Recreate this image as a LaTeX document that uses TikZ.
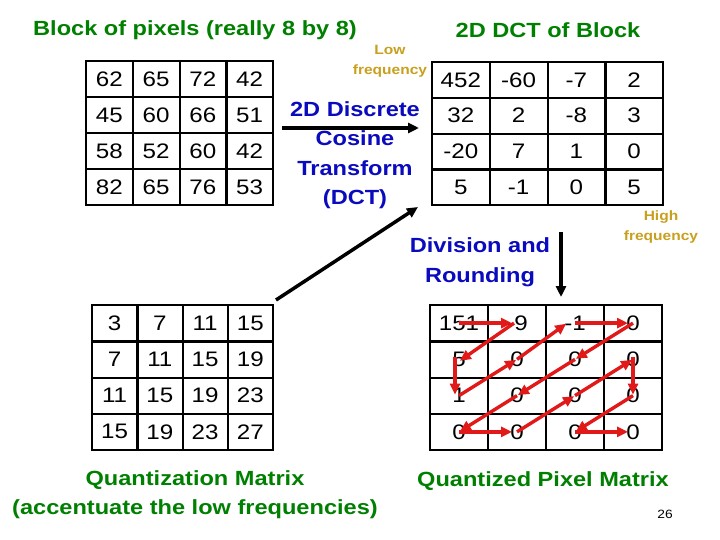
\documentclass[tikz,border=0pt]{standalone}
\usepackage{fontspec}
\setmainfont{Liberation Sans}[FakeStretch=1.15]
\usetikzlibrary{arrows.meta}
\definecolor{ttlgreen}{RGB}{0,128,0}
\definecolor{opblue}{RGB}{10,10,190}
\definecolor{freqgold}{RGB}{200,160,30}
\definecolor{zzred}{RGB}{225,25,25}
\tikzset{
  cell/.style={inner sep=0pt, font=\fontsize{21}{25}\selectfont},
  gridline/.style={draw=black, line width=2.3pt, line cap=rect},
  ttl/.style={text=ttlgreen, font=\bfseries\fontsize{20.5}{29}\selectfont, align=center},
  op/.style={text=opblue, font=\bfseries\fontsize{20.5}{29.5}\selectfont, align=center},
  freq/.style={text=freqgold, font=\bfseries\fontsize{13.5}{20}\selectfont, align=center},
  bigarrow/.style={line width=3.5pt, -{Triangle[length=11pt,width=10pt]}},
  zz/.style={draw=zzred, line width=3.4pt, -{Triangle[length=11pt,width=10pt]}, shorten >=1pt, shorten <=0pt}
}
\begin{document}
\begin{tikzpicture}[x=1pt,y=-1pt]
\useasboundingbox (0,0) rectangle (720,540);
\fill[white] (0,0) rectangle (720,540);

% titles
\node[ttl] (t1) at (195,30) {Block of pixels (really 8 by 8)};
\node[ttl] (t2) at (548,30) {2D DCT of Block};

% grid 1: pixels
\foreach \r/\vals in {1/{62,65,72,42},2/{45,60,66,51},3/{58,52,60,42},4/{82,65,76,53}}{
  \foreach \v [count=\c] in \vals {
    \node[cell, minimum width=46.75pt, minimum height=36pt] (g1-\r-\c) at ({86+(\c-0.5)*46.75},{61+(\r-0.5)*36}) {\v};
  }
}
% grid 2: DCT
\foreach \r/\vals in {1/{452,-60,-7,2},2/{32,2,-8,3},3/{-20,7,1,0},4/{5,-1,0,5}}{
  \foreach \v [count=\c] in \vals {
    \node[cell, minimum width=57.75pt, minimum height=35.75pt] (g2-\r-\c) at ({432+(\c-0.5)*57.75},{62+(\r-0.5)*35.75}) {\v};
  }
}
% grid 3: quantization
\foreach \r/\vals in {1/{3,7,11,15},2/{7,11,15,19},3/{11,15,19,23},4/{15,19,23,27}}{
  \foreach \v [count=\c] in \vals {
    \node[cell, minimum width=45.25pt, minimum height=36.25pt] (g3-\r-\c) at ({92+(\c-0.5)*45.25},{305+(\r-0.5)*36.25}) {\v};
  }
}
% grid 4: quantized
\foreach \r/\vals in {1/{151,-9,-1,0},2/{5,0,0,0},3/{1,0,0,0},4/{0,0,0,0}}{
  \foreach \v [count=\c] in \vals {
    \node[cell, minimum width=58pt, minimum height=36.25pt] (g4-\r-\c) at ({430+(\c-0.5)*58},{305+(\r-0.5)*36.25}) {\v};
  }
}
% grid lines
\foreach \g in {g1,g2,g3,g4}{
  \draw[gridline] (\g-1-1.north west) rectangle (\g-4-4.south east);
  \foreach \k in {1,2,3}{
    \draw[gridline] (\g-1-\k.north east) -- (\g-4-\k.south east);
    \draw[gridline] (\g-\k-1.south west) -- (\g-\k-4.south east);
  }
}

% labels
\node[op] (dct) at (355,155) {2D Discrete\\Cosine\\Transform\\(DCT)};
\node[op] (div) at (480,262) {Division and\\Rounding};
\node[freq] (low) at (390,61) {Low\\frequency};
\node[freq] (high) at (661,227) {High\\frequency};
\node[ttl] (qm) at (195,495) {Quantization Matrix\\(accentuate the low frequencies)};
\node[ttl] (qp) at (543,481) {Quantized Pixel Matrix};
\node[font=\fontsize{12}{14}\selectfont] (pg) at (665,514) {26};

% black arrows
\coordinate (a1s) at (282,128);
\coordinate (a1e) at (419,128);
\draw[bigarrow] (a1s) -- (a1e);
\coordinate (a2s) at (276,300);
\coordinate (a2e) at (418,207);
\draw[bigarrow] (a2s) -- (a2e);
\coordinate (a3s) at (561,232);
\coordinate (a3e) at (561,297);
\draw[bigarrow] (a3s) -- (a3e);

% zigzag
\draw[zz, shorten >=5pt] (g4-1-1.center) -- (g4-1-2.center);
\draw[zz] ([xshift=-3pt]g4-1-2.center) -- ([yshift=-2pt]g4-2-1.center);
\draw[zz] ([xshift=-4pt,yshift=2pt]g4-2-1.center) -- ([xshift=-4pt]g4-3-1.center);
\draw[zz] (g4-3-1.center) -- (g4-2-2.center);
\draw[zz] (g4-2-2.center) -- ([xshift=-8pt]g4-1-3.center);
\draw[zz, shorten >=5pt] (g4-1-3.center) -- (g4-1-4.center);
\draw[zz] (g4-1-4.center) -- (g4-2-3.center);
\draw[zz] (g4-2-3.center) -- (g4-3-2.center);
\draw[zz] (g4-3-2.center) -- (g4-4-1.center);
\draw[zz, shorten >=5pt] (g4-4-1.center) -- (g4-4-2.center);
\draw[zz] (g4-4-2.center) -- (g4-3-3.center);
\draw[zz] (g4-3-3.center) -- (g4-2-4.center);
\draw[zz] ([yshift=2pt]g4-2-4.center) -- (g4-3-4.center);
\draw[zz] (g4-3-4.center) -- (g4-4-3.center);
\draw[zz, shorten >=5pt] (g4-4-3.center) -- (g4-4-4.center);
\end{tikzpicture}
\end{document}
